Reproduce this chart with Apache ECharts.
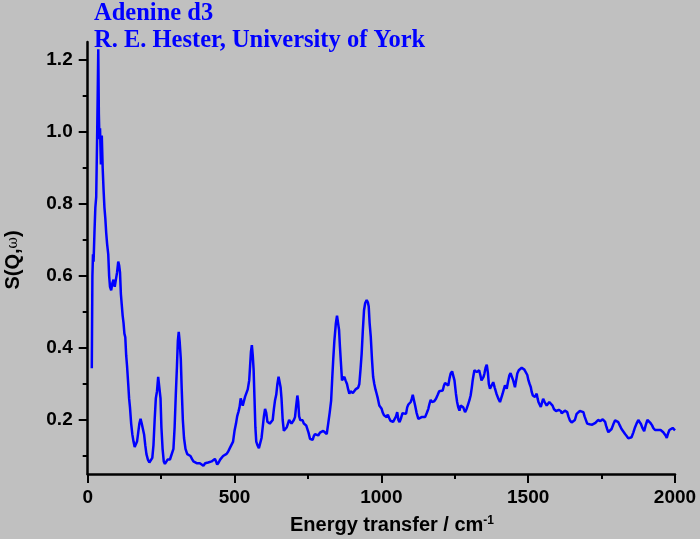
<!DOCTYPE html>
<html>
<head>
<meta charset="utf-8">
<script src="https://cdn.jsdelivr.net/npm/echarts@6/dist/echarts.min.js"></script>
<style>
html,body{margin:0;padding:0;background:#c0c0c0;}
#chart{width:700px;height:539px;}
</style>
</head>
<body>
<div id="chart"></div>
<script>
const titleLines = ['Adenine d3', 'R. E. Hester, University of York'];
const xTicks = [0, 500, 1000, 1500, 2000];
const yTicks = [0.2, 0.4, 0.6, 0.8, 1.0, 1.2];
const yMinorTicks = [0.1, 0.3, 0.5, 0.7, 0.9, 1.1];

const energy = [14,16,18,20,23,26,29,32,34,36,38,40,42,45,48,51,54,57,60,63,66,70,73,76,80,84,88,92,96,100,104,107,110,113,116,119,122,125,128,131,134,138,141,144,148,152,156,160,164,168,172,176,180,184,188,192,196,200,205,210,215,220,224,228,232,236,240,244,248,251,255,259,263,268,272,276,280,284,288,292,296,300,304,307,310,313,317,320,324,328,333,339,345,350,355,360,366,371,377,382,388,394,400,405,410,416,422,427,433,437,441,446,451,456,461,467,473,478,484,490,495,500,505,509,513,517,521,524,528,532,536,541,545,550,553,556,559,562,565,568,571,574,578,583,588,592,596,600,604,608,612,616,620,625,630,634,638,642,646,650,653,657,660,664,668,673,678,682,686,690,694,698,702,706,710,714,717,720,724,728,732,736,740,744,748,752,757,762,766,770,774,779,785,791,797,802,808,814,819,824,829,833,836,840,845,849,852,856,859,863,866,870,874,878,883,887,891,895,899,903,907,912,916,921,925,929,933,937,941,945,950,954,957,960,964,968,972,976,980,984,988,993,997,1001,1005,1009,1013,1018,1022,1027,1031,1035,1040,1046,1050,1054,1058,1062,1067,1072,1078,1084,1088,1092,1096,1100,1104,1107,1111,1115,1120,1126,1131,1137,1143,1149,1155,1160,1164,1168,1172,1175,1180,1186,1192,1197,1203,1209,1213,1217,1222,1228,1232,1236,1241,1245,1249,1254,1258,1262,1266,1270,1274,1279,1285,1290,1296,1300,1304,1308,1311,1314,1317,1321,1325,1329,1333,1337,1341,1344,1348,1351,1355,1359,1363,1366,1370,1375,1381,1386,1392,1398,1404,1408,1413,1417,1421,1427,1431,1436,1440,1444,1449,1455,1459,1463,1468,1473,1478,1482,1487,1493,1497,1501,1505,1509,1512,1516,1520,1523,1526,1529,1532,1535,1539,1543,1547,1551,1556,1559,1563,1568,1572,1577,1583,1588,1591,1595,1599,1604,1608,1611,1614,1620,1625,1630,1633,1637,1642,1648,1654,1659,1665,1670,1676,1682,1688,1692,1697,1701,1705,1709,1713,1718,1724,1729,1733,1738,1742,1746,1750,1754,1758,1762,1765,1769,1773,1778,1784,1790,1796,1801,1807,1812,1818,1824,1830,1836,1841,1847,1852,1858,1864,1869,1875,1880,1884,1889,1895,1900,1906,1912,1917,1922,1926,1932,1938,1942,1947,1951,1955,1960,1964,1968,1972,1976,1981,1986,1992,1996,2000];

const sqw = [0.344,0.6,0.66,0.64,0.72,0.79,0.82,0.98,1.1,1.23,1.05,0.98,1.01,0.91,0.99,0.9,0.84,0.79,0.76,0.72,0.69,0.66,0.6,0.57,0.56,0.58,0.59,0.57,0.59,0.61,0.64,0.63,0.61,0.55,0.52,0.49,0.47,0.44,0.43,0.38,0.35,0.3,0.26,0.235,0.19,0.16,0.14,0.125,0.12,0.14,0.165,0.19,0.203,0.19,0.175,0.16,0.13,0.105,0.09,0.082,0.085,0.095,0.13,0.2,0.26,0.28,0.32,0.29,0.26,0.18,0.12,0.085,0.078,0.08,0.09,0.085,0.09,0.1,0.1,0.12,0.18,0.27,0.35,0.42,0.445,0.42,0.37,0.29,0.2,0.15,0.12,0.105,0.1,0.1,0.092,0.085,0.085,0.08,0.085,0.08,0.078,0.073,0.08,0.085,0.082,0.086,0.085,0.09,0.092,0.085,0.076,0.082,0.09,0.092,0.1,0.104,0.106,0.112,0.122,0.124,0.14,0.17,0.19,0.21,0.222,0.235,0.26,0.258,0.24,0.235,0.265,0.268,0.285,0.31,0.35,0.39,0.408,0.38,0.34,0.26,0.18,0.14,0.13,0.122,0.122,0.15,0.18,0.21,0.231,0.22,0.195,0.19,0.19,0.195,0.2,0.23,0.255,0.27,0.3,0.32,0.325,0.29,0.26,0.2,0.17,0.175,0.18,0.19,0.2,0.205,0.19,0.194,0.2,0.208,0.24,0.268,0.25,0.21,0.2,0.205,0.199,0.19,0.195,0.185,0.18,0.165,0.148,0.145,0.145,0.155,0.161,0.16,0.157,0.165,0.166,0.17,0.175,0.161,0.19,0.22,0.254,0.32,0.366,0.42,0.468,0.49,0.488,0.45,0.403,0.35,0.31,0.315,0.32,0.31,0.3,0.285,0.273,0.28,0.282,0.275,0.273,0.285,0.287,0.29,0.3,0.34,0.385,0.45,0.505,0.525,0.533,0.527,0.515,0.47,0.431,0.37,0.32,0.3,0.285,0.273,0.26,0.24,0.235,0.231,0.22,0.213,0.208,0.208,0.215,0.205,0.198,0.194,0.195,0.199,0.21,0.222,0.2,0.194,0.205,0.219,0.22,0.217,0.235,0.243,0.245,0.25,0.26,0.27,0.255,0.24,0.22,0.203,0.205,0.208,0.206,0.208,0.22,0.231,0.245,0.256,0.25,0.247,0.252,0.259,0.27,0.28,0.28,0.282,0.295,0.303,0.3,0.296,0.315,0.329,0.335,0.338,0.31,0.273,0.25,0.235,0.226,0.24,0.245,0.235,0.222,0.23,0.245,0.255,0.268,0.29,0.31,0.325,0.338,0.335,0.333,0.335,0.338,0.325,0.31,0.305,0.32,0.329,0.345,0.354,0.33,0.3,0.287,0.295,0.305,0.29,0.273,0.26,0.25,0.26,0.273,0.285,0.296,0.287,0.305,0.324,0.33,0.331,0.31,0.291,0.31,0.329,0.338,0.343,0.345,0.347,0.34,0.338,0.325,0.31,0.3,0.291,0.278,0.268,0.265,0.264,0.268,0.273,0.26,0.25,0.243,0.236,0.248,0.259,0.25,0.245,0.24,0.245,0.25,0.252,0.24,0.23,0.226,0.225,0.224,0.228,0.231,0.225,0.219,0.222,0.226,0.224,0.222,0.21,0.199,0.193,0.191,0.2,0.217,0.222,0.225,0.223,0.222,0.21,0.199,0.19,0.185,0.188,0.189,0.187,0.189,0.192,0.194,0.2,0.2,0.197,0.197,0.202,0.206,0.195,0.185,0.175,0.166,0.17,0.175,0.188,0.199,0.198,0.194,0.185,0.175,0.168,0.161,0.155,0.149,0.149,0.152,0.165,0.18,0.19,0.2,0.195,0.189,0.178,0.169,0.185,0.2,0.197,0.191,0.185,0.178,0.172,0.169,0.172,0.175,0.172,0.169,0.166,0.163,0.157,0.15,0.162,0.172,0.176,0.178,0.175,0.171];

const points = energy.map((e, i) => [e, sqw[i]]);

const chart = echarts.init(document.getElementById('chart'), null, {renderer: 'canvas'});
const labelFont = {fontFamily: 'Liberation Sans, Arial, sans-serif', fontWeight: 'bold', fontSize: 19, color: '#000'};
const axisLine = {show: true, onZero: false, lineStyle: {color: '#000', width: 2.5}};
const titleFont = 'bold 24.5px "Liberation Serif", "Times New Roman", serif';

chart.setOption({
  backgroundColor: '#c0c0c0',
  animation: false,
  grid: {left: 87.7, right: 25, top: 42, bottom: 65, containLabel: false, show: false},
  xAxis: {
    type: 'value', min: 0, max: 2000, interval: 500,
    axisLine: axisLine,
    axisTick: {show: true, inside: false, length: 9, lineStyle: {color: '#000', width: 2}},
    minorTick: {show: true, splitNumber: 2, length: 5, lineStyle: {color: '#000', width: 2}},
    splitLine: {show: false}, minorSplitLine: {show: false},
    axisLabel: Object.assign({margin: 14, formatter: v => String(v)}, labelFont)
  },
  yAxis: [{
    type: 'value', min: 0.05, max: 1.25,
    axisLine: axisLine,
    axisTick: {show: true, inside: false, length: 9, customValues: yTicks, lineStyle: {color: '#000', width: 2}},
    splitLine: {show: false},
    axisLabel: Object.assign({margin: 15, customValues: yTicks, formatter: v => Number(v).toFixed(1)}, labelFont)
  }, {
    type: 'value', min: 0.05, max: 1.25, position: 'left',
    axisLine: {show: false},
    axisTick: {show: true, inside: false, length: 5, customValues: yMinorTicks, lineStyle: {color: '#000', width: 2}},
    splitLine: {show: false},
    axisLabel: {show: false}
  }],
  graphic: [
    {type: 'text', left: 94, top: 1, style: {text: titleLines[0], fill: '#0000ff', font: titleFont}},
    {type: 'text', left: 94, top: 28.5, style: {text: titleLines[1], fill: '#0000ff', font: titleFont}},
    {type: 'text', x: 392, y: 525, style: {
      text: 'Energy transfer / cm{sup|-1}', align: 'center', verticalAlign: 'middle',
      fill: '#000', font: 'bold 20px "Liberation Sans", Arial, sans-serif',
      rich: {sup: {fontSize: 12, fontWeight: 'bold', fontFamily: 'Liberation Sans', fill: '#000', verticalAlign: 'top', lineHeight: 12, padding: [0, 0, 10, 0]}}
    }},
    {type: 'text', x: 13, y: 260, rotation: Math.PI / 2, style: {
      text: 'S(Q,{w|ω})', align: 'center', verticalAlign: 'middle',
      fill: '#000', font: 'bold 20px "Liberation Sans", Arial, sans-serif',
      rich: {w: {fontSize: 14, fontFamily: 'DejaVu Serif', fill: '#000'}}
    }}
  ],
  series: [{
    type: 'line', data: points, xAxisIndex: 0, yAxisIndex: 0,
    showSymbol: false, symbol: 'none', smooth: false,
    lineStyle: {color: '#0000ff', width: 2.5}
  }]
});
</script>
</body>
</html>
